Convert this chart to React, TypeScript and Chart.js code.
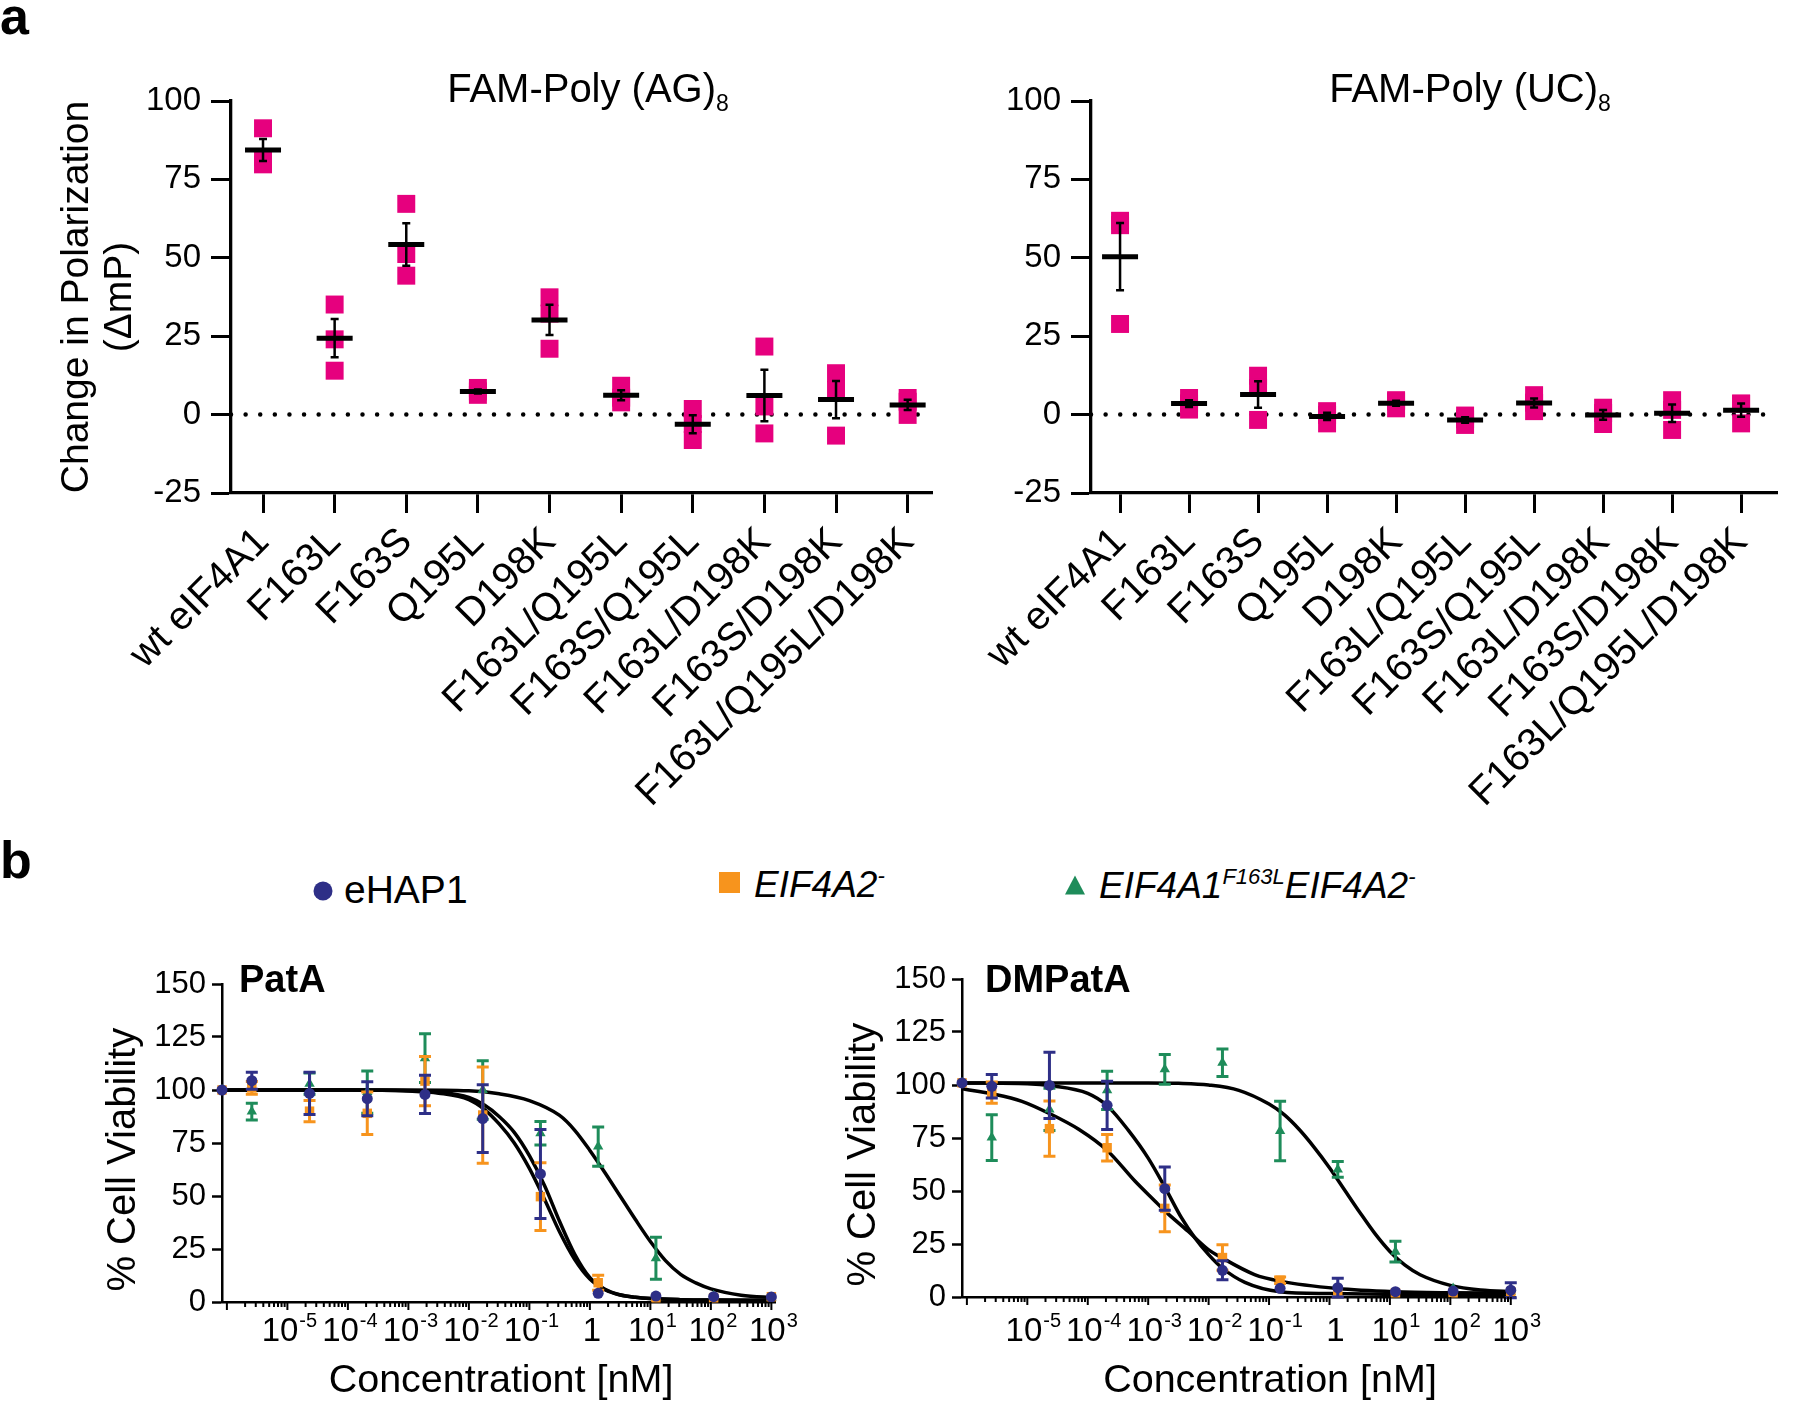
import React, { useEffect, useRef } from 'react';
import { Chart, registerables } from 'chart.js';

Chart.register(...registerables);

const FONT = '"Liberation Sans", Arial, Helvetica, sans-serif';
Chart.defaults.font.family = FONT;
Chart.defaults.color = '#000';

// ===================== Panel a : fluorescence polarization =====================
const mutants = ['wt eIF4A1', 'F163L', 'F163S', 'Q195L', 'D198K', 'F163L/Q195L', 'F163S/Q195L', 'F163L/D198K', 'F163S/D198K', 'F163L/Q195L/D198K'];
const polarizationTicks = [-25, 0, 25, 50, 75, 100];
const polyAGReplicates = [
  [91.3, 82.1, 79.8],
  [35.1, 24.0, 14.0],
  [67.2, 51.2, 44.3],
  [8.5, 7.4, 6.3],
  [37.4, 32.2, 21.0],
  [9.2, 5.4, 3.9],
  [1.8, -3.0, -8.1],
  [21.7, 2.6, -6.0],
  [13.2, 7.9, -6.7],
  [5.3, 4.1, -0.1],
];
const polyUCReplicates = [
  [61.8, 60.4, 28.9],
  [5.3, 3.6, 1.6],
  [12.4, 8.5, -1.7],
  [1.1, -0.1, -2.8],
  [4.6, 4.2, 2.0],
  [-0.3, -1.5, -3.3],
  [6.2, 3.8, 1.1],
  [2.2, 0.5, -3.0],
  [4.6, 1.5, -4.9],
  [3.5, 3.5, -2.8],
];

// ===================== Panel b : cell viability =====================
const controlConcNM = 8.3e-7; // untreated control, drawn at the axis origin
const concentrationsNM = [2.581e-6, 2.323e-5, 2.091e-4, 1.882e-3, 1.694e-2, 0.1524, 1.372, 12.35, 111.1, 1000];
const viabilityTicks = [0, 25, 50, 75, 100, 125, 150];
const decadeExponents = [-5, -4, -3, -2, -1, 0, 1, 2, 3];

// PatA (control first, then increasing concentration)
const patA_eHAP1 = [100, 104.4, 98.4, 95.9, 97.9, 86.5, 60.4, 4.1, 2.8, 2.5, 2.4];
const patA_eHAP1Err = [0, 4, 10, 8, 9, 16, 21, 0, 0, 0, 0];
const patA_EIF4A2 = [100, 101, 90, 89, 104.2, 88.2, 49.7, 9.1, 2, 2, 2.5];
const patA_EIF4A2Err = [0, 3, 5, 10, 11.6, 22.7, 16, 3.5, 0, 0, 0];
const patA_F163L = [100, 89.8, 103, 99, 115, 100, 79.6, 73.3, 20.6, 3, 2];
const patA_F163LErr = [0, 4, 5, 10, 11.5, 13.8, 5.5, 9.3, 9.9, 0, 0];

// DMPatA
const dm_eHAP1 = [101, 99.4, 99.8, 90.4, 51.1, 12.6, 4.1, 4.4, 2.5, 2.8, 3.2];
const dm_eHAP1Err = [0, 5.5, 15.6, 11.4, 10.2, 4.5, 0, 4.4, 0, 0, 3.5];
const dm_EIF4A2 = [101, 96.4, 79.4, 70.4, 41.8, 18.6, 7.9, 3, 2, 2, 2.5];
const dm_EIF4A2Err = [0, 5, 13, 6.3, 11, 6, 1.5, 0, 0, 0, 0];
const dm_F163L = [101, 75.2, 88.5, 97.5, 107.4, 110.5, 78.3, 60.2, 21.4, 4, 2.5];
const dm_F163LErr = [0, 10.8, 10, 9, 7, 6.5, 14, 3.7, 4.9, 0, 0];

// fitted curves (log10 concentration in nM, % viability)
const patA_fitLog = [-6.08, -4, -3, -2.5, -2, -1.75, -1.5, -1.25, -1, -0.75, -0.5, -0.25, 0, 0.25, 0.5, 0.75, 1, 1.5, 2, 3.06];
const patA_fitEIF4A2 = [100, 100, 99.5, 98.5, 95.5, 91, 84, 75, 63, 48.5, 33, 20, 10.8, 5.8, 3.3, 2.2, 1.6, 1.1, 0.9, 0.8];
const patA_fitEHAP1 = [100, 100, 99.7, 99, 96.5, 93, 87.5, 80, 69, 55, 38, 22.5, 11.5, 6, 3.4, 2.2, 1.6, 1.1, 0.9, 0.8];
const patA_fitF163LLog = [-6.08, -3, -2, -1.5, -1, -0.5, -0.25, 0, 0.25, 0.5, 0.75, 1, 1.25, 1.5, 1.75, 2, 2.5, 3.06];
const patA_fitF163L = [100, 100, 99.6, 98.2, 95, 88, 81, 71.5, 61, 50, 39, 28.5, 19.5, 13, 9, 6.2, 3.2, 2];

const dm_fitF163LLog = [-6.08, -3, -2.5, -2, -1.5, -1, -0.75, -0.5, -0.25, 0, 0.25, 0.5, 0.75, 1, 1.25, 1.5, 2, 2.5, 3.07];
const dm_fitF163L = [101, 101, 100.8, 100, 97.5, 91, 86, 79, 70.5, 61, 50.5, 40, 30, 21.5, 15, 10.5, 5.5, 3.3, 2.5];
const dm_fitEHAP1Log = [-6.08, -5, -4.6, -4, -3.67, -3.33, -3, -2.72, -2.45, -2.23, -2, -1.78, -1.4, -0.82, 0, 1, 2, 3.07];
const dm_fitEHAP1 = [101, 100.6, 99.6, 96, 90, 78.7, 65.5, 51.6, 37.4, 28, 20, 13.8, 6.9, 2.5, 1.6, 1.3, 1.2, 1.2];
const dm_fitEIF4A2Log = [-6.08, -5.56, -5.09, -4.61, -4.15, -3.67, -3.22, -2.89, -2.72, -2.34, -2.01, -1.78, -1.24, -0.82, 0.13, 1.08, 2, 3.07];
const dm_fitEIF4A2 = [98.2, 95.7, 92.3, 86.2, 79.1, 68.9, 54.7, 45.3, 40.5, 31, 22.5, 18.5, 10.6, 7.5, 4, 2.5, 2, 1.8];

// ===================== styling =====================
const PINK = '#E6007E';
const NAVY = '#2E2F87';
const ORANGE = '#F7941D';
const GREEN = '#1E8C5A';

type Geo = { cx: number; cy: number; cw: number; ch: number; L: number; T: number; R: number; B: number };

const errorBarPlugin = {
  id: 'errorBars',
  afterDatasetDraw(chart: any, args: any) {
    const ds = chart.data.datasets[args.index];
    if (!ds.errors) return;
    const xs = chart.scales.x;
    const ys = chart.scales.y;
    const ctx = chart.ctx;
    ctx.save();
    ctx.strokeStyle = ds.errorColor;
    ctx.lineWidth = ds.errorWidth;
    ctx.lineCap = 'butt';
    ds.data.forEach((p: any, i: number) => {
      const e = ds.errors[i];
      if (!e) return;
      const x = xs.getPixelForValue(p.x);
      const yt = ys.getPixelForValue(p.y + e);
      const yb = ys.getPixelForValue(p.y - e);
      const hw = ds.capWidth / 2;
      ctx.beginPath();
      ctx.moveTo(x, yt);
      ctx.lineTo(x, yb);
      ctx.moveTo(x - hw, yt);
      ctx.lineTo(x + hw, yt);
      ctx.moveTo(x - hw, yb);
      ctx.lineTo(x + hw, yb);
      ctx.stroke();
    });
    ctx.restore();
  },
};

const logAxisPlugin = {
  id: 'logAxis',
  afterDraw(chart: any, _args: any, opts: any) {
    const xs = chart.scales.x;
    const { ctx, chartArea } = chart;
    ctx.save();
    ctx.strokeStyle = '#000';
    ctx.lineWidth = 2;
    for (let d = -6; d <= 3; d++) {
      for (let m = 1; m <= 9; m++) {
        const v = m * Math.pow(10, d);
        if (v > xs.max * 1.001) continue;
        const px = xs.getPixelForValue(v);
        ctx.beginPath();
        ctx.moveTo(px, chartArea.bottom);
        ctx.lineTo(px, chartArea.bottom + (m === 1 ? 8 : 5));
        ctx.stroke();
      }
    }
    ctx.fillStyle = '#000';
    ctx.textBaseline = 'alphabetic';
    ctx.textAlign = 'left';
    const baseFont = `33px ${FONT}`;
    const supFont = `20px ${FONT}`;
    const yb = chartArea.bottom + opts.labelBaseline;
    for (const e of decadeExponents) {
      const base = e === 0 ? '1' : '10';
      const sup = e === 0 ? '' : String(e);
      ctx.font = baseFont;
      const wb = ctx.measureText(base).width;
      ctx.font = supFont;
      const ws = sup ? ctx.measureText(sup).width + 1 : 0;
      const cxp = xs.getPixelForValue(Math.pow(10, e)) + opts.labelShift;
      const x0 = cxp - (wb + ws) / 2;
      ctx.font = baseFont;
      ctx.fillText(base, x0, yb);
      if (sup) {
        ctx.font = supFont;
        ctx.fillText(sup, x0 + wb + 1, yb - 14);
      }
    }
    ctx.font = `39.5px ${FONT}`;
    ctx.textAlign = 'center';
    ctx.fillText(opts.title, (chartArea.left + chartArea.right) / 2 + opts.titleDx, chartArea.bottom + opts.titleBaseline);
    ctx.restore();
  },
};

function basePadding(geo: Geo) {
  return { left: 0, top: geo.T - geo.cy, right: geo.cx + geo.cw - geo.R, bottom: 0 };
}

function buildPolarization(canvas: HTMLCanvasElement, reps: number[][], geo: Geo, xMin: number, xMax: number, withTitle: boolean) {
  const means = reps.map((r) => r.reduce((a, b) => a + b, 0) / r.length);
  const sems = reps.map((r, i) => Math.sqrt(r.reduce((a, b) => a + (b - means[i]) ** 2, 0) / (r.length - 1)) / Math.sqrt(r.length));
  const points = reps.flatMap((r, i) => r.map((v) => ({ x: i, y: v })));
  const tickGrid = { display: true, drawOnChartArea: false, drawTicks: true, tickLength: 20, tickWidth: 3, tickColor: '#000' };
  return new Chart(canvas, {
    type: 'scatter',
    data: {
      datasets: [
        {
          label: 'mean',
          data: means.map((m, i) => ({ x: i, y: m })),
          pointStyle: 'line',
          pointRadius: 18,
          borderWidth: 5,
          borderColor: '#000',
          backgroundColor: '#000',
          clip: false,
          errors: sems,
          errorColor: '#000',
          errorWidth: 2.5,
          capWidth: 8,
        } as any,
        {
          label: 'replicates',
          data: points,
          pointStyle: 'rect',
          pointRadius: 12.7,
          borderWidth: 0,
          backgroundColor: PINK,
          borderColor: PINK,
          clip: false,
        } as any,
        {
          label: 'zero',
          data: [{ x: xMin, y: 0 }, { x: xMax, y: 0 }],
          showLine: true,
          pointRadius: 0,
          borderColor: '#000',
          borderWidth: 4.5,
          borderDash: [0.01, 14.6],
          borderCapStyle: 'round',
        } as any,
      ],
    },
    plugins: [errorBarPlugin],
    options: {
      animation: false,
      responsive: false,
      devicePixelRatio: 1,
      events: [],
      layout: { padding: basePadding(geo) },
      plugins: { legend: { display: false }, tooltip: { enabled: false }, title: { display: false } },
      scales: {
        x: {
          type: 'linear',
          min: xMin,
          max: xMax,
          afterBuildTicks: (s: any) => { s.ticks = mutants.map((_, i) => ({ value: i })); },
          afterFit: (s: any) => { s.height = geo.cy + geo.ch - geo.B; },
          ticks: {
            autoSkip: false,
            minRotation: 45,
            maxRotation: 45,
            padding: 6,
            color: '#000',
            font: { size: 39.5, family: FONT },
            callback: (v: any) => mutants[v] ?? '',
          },
          grid: tickGrid,
          border: { display: true, color: '#000', width: 3.3 },
        },
        y: {
          min: -25,
          max: 100,
          afterBuildTicks: (s: any) => { s.ticks = polarizationTicks.map((v) => ({ value: v })); },
          afterFit: (s: any) => { s.width = geo.L - geo.cx; },
          ticks: { padding: 10, color: '#000', font: { size: 33, family: FONT } },
          grid: tickGrid,
          border: { display: true, color: '#000', width: 3.3 },
          title: withTitle
            ? { display: true, text: ['Change in Polarization', '(ΔmP)'], color: '#000', font: { size: 39, family: FONT, lineHeight: 1.1 }, padding: { top: 56, bottom: 0 } }
            : { display: false },
        },
      },
    } as any,
  });
}

function pointSet(vals: number[], errs: number[], color: string, style: string, radius: number) {
  return {
    data: vals.map((v, i) => ({ x: i === 0 ? controlConcNM : concentrationsNM[i - 1], y: v })),
    pointStyle: style,
    pointRadius: radius,
    backgroundColor: color,
    borderColor: color,
    borderWidth: 0,
    clip: false,
    errors: errs,
    errorColor: color,
    errorWidth: 3,
    capWidth: 12,
  } as any;
}

function curveSet(logs: number[], vals: number[]) {
  return {
    data: logs.map((l, i) => ({ x: Math.pow(10, l), y: vals[i] })),
    showLine: true,
    pointRadius: 0,
    borderColor: '#000',
    borderWidth: 3.5,
    cubicInterpolationMode: 'monotone',
    clip: false,
  } as any;
}

function buildViability(canvas: HTMLCanvasElement, geo: Geo, xMax: number, datasets: any[], axisOpts: any, titlePad: number) {
  return new Chart(canvas, {
    type: 'scatter',
    data: { datasets },
    plugins: [errorBarPlugin, logAxisPlugin],
    options: {
      animation: false,
      responsive: false,
      devicePixelRatio: 1,
      events: [],
      layout: { padding: basePadding(geo) },
      plugins: { legend: { display: false }, tooltip: { enabled: false }, title: { display: false }, logAxis: axisOpts },
      scales: {
        x: {
          type: 'logarithmic',
          min: controlConcNM,
          max: xMax,
          afterFit: (s: any) => { s.height = geo.cy + geo.ch - geo.B; },
          ticks: { display: false },
          grid: { display: false },
          border: { display: true, color: '#000', width: 2.5 },
        },
        y: {
          min: 0,
          max: 150,
          afterBuildTicks: (s: any) => { s.ticks = viabilityTicks.map((v) => ({ value: v })); },
          afterFit: (s: any) => { s.width = geo.L - geo.cx; },
          ticks: { padding: 6, color: '#000', font: { size: 31, family: FONT } },
          grid: { display: true, drawOnChartArea: false, drawTicks: true, tickLength: 10, tickWidth: 2.5, tickColor: '#000' },
          border: { display: true, color: '#000', width: 2.5 },
          title: { display: true, text: '% Cell Viability   ', color: '#000', font: { size: 40, family: FONT }, padding: { top: titlePad, bottom: 0 } },
        },
      },
    } as any,
  });
}

const geoAG: Geo = { cx: 0, cy: 40, cw: 960, ch: 790, L: 231, T: 101, R: 932, B: 493 };
const geoUC: Geo = { cx: 960, cy: 40, cw: 840, ch: 790, L: 1091, T: 101, R: 1799, B: 493 };
const geoPatA: Geo = { cx: 0, cy: 930, cw: 800, ch: 472, L: 222, T: 984, R: 775, B: 1302 };
const geoDM: Geo = { cx: 800, cy: 930, cw: 1000, ch: 472, L: 962, T: 979, R: 1515, B: 1297 };

function ChartCanvas({ geo, build }: { geo: Geo; build: (c: HTMLCanvasElement) => Chart }) {
  const ref = useRef<HTMLCanvasElement>(null);
  useEffect(() => {
    const chart = build(ref.current as HTMLCanvasElement);
    return () => chart.destroy();
  }, []);
  return (
    <canvas
      ref={ref}
      width={geo.cw}
      height={geo.ch}
      style={{ position: 'absolute', left: geo.cx, top: geo.cy, width: geo.cw, height: geo.ch }}
    />
  );
}

function Txt({ x, y, size, bold, italic, center, children }: any) {
  const style: React.CSSProperties = {
    position: 'absolute',
    left: x,
    top: y - 0.8465 * size,
    fontSize: size,
    lineHeight: 1,
    fontFamily: FONT,
    fontWeight: bold ? 700 : 400,
    fontStyle: italic ? 'italic' : 'normal',
    whiteSpace: 'nowrap',
    color: '#000',
    transform: center ? 'translateX(-50%)' : undefined,
  };
  return <div style={style}>{children}</div>;
}

function Shift({ size, dy, children }: any) {
  return <span style={{ fontSize: size, position: 'relative', top: dy }}>{children}</span>;
}

export default function App() {
  return (
    <div style={{ position: 'absolute', left: 0, top: 0, width: 1800, height: 1402, background: '#fff', overflow: 'hidden' }}>
      <ChartCanvas geo={geoAG} build={(c) => buildPolarization(c, polyAGReplicates, geoAG, -0.447, 9.34, true)} />
      <ChartCanvas geo={geoUC} build={(c) => buildPolarization(c, polyUCReplicates, geoUC, -0.421, 9.52, false)} />
      <ChartCanvas
        geo={geoPatA}
        build={(c) =>
          buildViability(
            c,
            geoPatA,
            Math.pow(10, 3.06),
            [
              pointSet(patA_eHAP1, patA_eHAP1Err, NAVY, 'circle', 5.5),
              pointSet(patA_EIF4A2, patA_EIF4A2Err, ORANGE, 'rect', 6.7),
              pointSet(patA_F163L, patA_F163LErr, GREEN, 'triangle', 6),
              curveSet(patA_fitLog, patA_fitEIF4A2),
              curveSet(patA_fitLog, patA_fitEHAP1),
              curveSet(patA_fitF163LLog, patA_fitF163L),
            ],
            { labelShift: 2, labelBaseline: 39, title: 'Concentrationt [nM]', titleDx: 2.5, titleBaseline: 90 },
            100,
          )
        }
      />
      <ChartCanvas
        geo={geoDM}
        build={(c) =>
          buildViability(
            c,
            geoDM,
            Math.pow(10, 3.07),
            [
              pointSet(dm_eHAP1, dm_eHAP1Err, NAVY, 'circle', 5.5),
              pointSet(dm_EIF4A2, dm_EIF4A2Err, ORANGE, 'rect', 6.7),
              pointSet(dm_F163L, dm_F163LErr, GREEN, 'triangle', 6),
              curveSet(dm_fitEIF4A2Log, dm_fitEIF4A2),
              curveSet(dm_fitEHAP1Log, dm_fitEHAP1),
              curveSet(dm_fitF163LLog, dm_fitF163L),
            ],
            { labelShift: 6, labelBaseline: 44, title: 'Concentration [nM]', titleDx: 31.5, titleBaseline: 95 },
            40,
          )
        }
      />

      {/* panel letters */}
      <Txt x={0} y={34} size={52} bold>a</Txt>
      <Txt x={0} y={878} size={52} bold>b</Txt>

      {/* panel a titles */}
      <Txt x={588} y={102} size={40} center>
        FAM-Poly (AG)<Shift size={23} dy={9}>8</Shift>
      </Txt>
      <Txt x={1470} y={102} size={40} center>
        FAM-Poly (UC)<Shift size={23} dy={9}>8</Shift>
      </Txt>

      {/* panel b titles */}
      <Txt x={239} y={992} size={38} bold>PatA</Txt>
      <Txt x={985} y={992} size={38} bold>DMPatA</Txt>

      {/* legend */}
      <svg style={{ position: 'absolute', left: 0, top: 860 }} width={1200} height={50}>
        <circle cx={323} cy={31} r={9.5} fill={NAVY} />
        <rect x={719} y={12} width={21} height={21} fill={ORANGE} />
        <polygon points="1075,15.5 1065,34.5 1085,34.5" fill={GREEN} />
      </svg>
      <Txt x={344} y={903} size={39}>eHAP1</Txt>
      <Txt x={754} y={897} size={37} italic>
        EIF4A2<Shift size={22} dy={-14}>-</Shift>
      </Txt>
      <Txt x={1099} y={898} size={37} italic>
        EIF4A1<Shift size={22} dy={-14}>F163L</Shift>EIF4A2<Shift size={22} dy={-14}>-</Shift>
      </Txt>
    </div>
  );
}
